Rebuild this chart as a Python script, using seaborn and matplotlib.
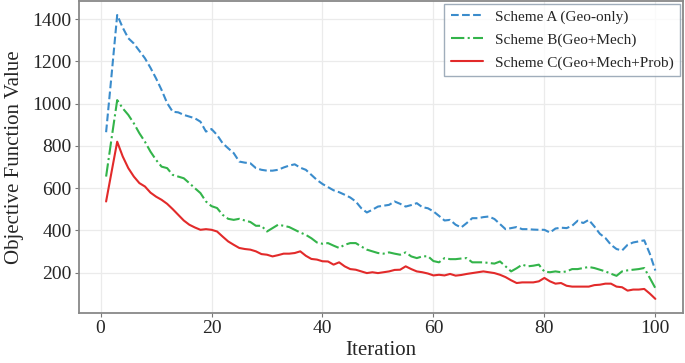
import pandas as pd
import matplotlib
matplotlib.use("Agg")
import matplotlib.pyplot as plt
import seaborn as sns

iterations = list(range(1, 101))

scheme_a = [865, 1140, 1420, 1360, 1310, 1285, 1250, 1215, 1170, 1120,
            1065, 1003, 962, 959, 947, 939, 931, 915, 868, 880,
            852, 813, 789, 766, 726, 721, 718, 695, 687, 683,
            683, 687, 698, 707, 713, 697, 687, 663, 639, 620,
            605, 590, 581, 569, 556, 537, 505, 485, 498, 513,
            517, 521, 537, 526, 513, 520, 529, 510, 505, 490,
            469, 447, 450, 427, 414, 435, 458, 458, 463, 466,
            454, 430, 406, 411, 416, 406, 406, 404, 403, 403,
            390, 409, 413, 411, 422, 446, 435, 450, 419, 384,
            364, 332, 312, 305, 332, 343, 348, 353, 290, 210]

scheme_b = [655, 838, 1017, 978, 947, 907, 860, 820, 773, 734,
            702, 695, 663, 655, 647, 624, 600, 577, 537, 515,
            506, 474, 455, 450, 455, 447, 440, 422, 422, 395,
            411, 427, 422, 416, 403, 390, 379, 363, 343, 337,
            340, 328, 317, 332, 340, 340, 324, 309, 301, 293,
            290, 296, 290, 285, 296, 277, 269, 277, 278, 255,
            249, 269, 264, 264, 267, 269, 249, 249, 249, 246,
            243, 253, 230, 206, 221, 238, 230, 233, 238, 205,
            202, 206, 202, 206, 217, 217, 222, 227, 222, 214,
            206, 195, 185, 206, 211, 214, 217, 222, 175, 127]

scheme_c = [537, 679, 820, 750, 695, 655, 624, 608, 579, 560,
            545, 526, 501, 474, 447, 427, 414, 403, 406, 403,
            395, 371, 348, 332, 317, 312, 309, 301, 288, 285,
            277, 283, 290, 290, 293, 301, 280, 265, 262, 254,
            253, 238, 249, 230, 217, 214, 206, 198, 202, 198,
            202, 206, 213, 214, 230, 217, 206, 202, 196, 187,
            190, 187, 194, 186, 189, 194, 198, 202, 206, 202,
            198, 190, 179, 164, 151, 154, 154, 154, 159, 175,
            159, 148, 151, 138, 134, 134, 134, 134, 141, 143,
            148, 148, 134, 131, 115, 120, 120, 123, 101, 76]

labels = ["Scheme A (Geo-only)", "Scheme B(Geo+Mech)", "Scheme C(Geo+Mech+Prob)"]
colors = ["#3a8ccc", "#33b44a", "#e22a2a"]
styles = ["--", "-.", "-"]

sns.set_style("whitegrid")
plt.rcParams['font.family'] = ['Liberation Serif', 'DejaVu Serif']

fig = plt.figure(figsize=(6.85, 3.63), dpi=100)
ax = fig.add_axes([0.1148, 0.1377, 0.882, 0.860])

for vals, lab, col, ls in zip([scheme_a, scheme_b, scheme_c], labels, colors, styles):
    df = pd.DataFrame({'Iteration': iterations, 'value': vals})
    sns.lineplot(data=df, x='Iteration', y='value', label=lab, color=col,
                 linestyle=ls, linewidth=1.5, ax=ax)

ax.set_xlim(-3.95, 104.95)
ax.set_ylim(9, 1487)
ax.set_xticks([0, 20, 40, 60, 80, 100])
ax.set_yticks([200, 400, 600, 800, 1000, 1200, 1400])
ax.tick_params(axis='both', labelsize=14, pad=2)
ax.tick_params(axis='both', bottom=True, left=True, length=3, color='#777777')
ax.set_xlabel('Iteration', fontsize=15, labelpad=3)
ax.set_ylabel('Objective Function Value', fontsize=15, labelpad=6)

ax.grid(color='#ebebeb', linewidth=0.9)
for s in ax.spines.values():
    s.set_color('#888888')
    s.set_linewidth(1.3)

leg = ax.legend(loc='upper right', fontsize=11, frameon=True, fancybox=False,
                edgecolor='#8899aa', borderaxespad=0.2, handlelength=2.1,
                labelspacing=0.6)
leg.get_frame().set_linewidth(1.0)

plt.savefig('out.png', dpi=100)
